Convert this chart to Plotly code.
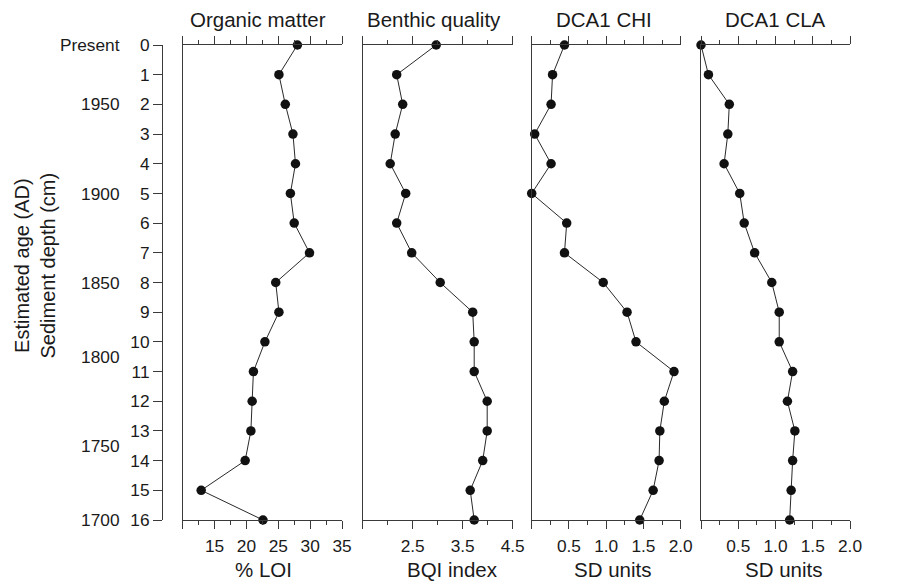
import plotly.graph_objects as go

# ---------------- data ----------------
depth = [0, 1, 2, 3, 4, 5, 6, 7, 8, 9, 10, 11, 12, 13, 14, 15, 16]
organic_loi = [28.0, 25.1, 26.1, 27.3, 27.7, 26.9, 27.5, 29.9, 24.6, 25.1,
               22.9, 21.1, 20.9, 20.7, 19.8, 12.9, 22.6]
bqi_index = [2.97, 2.18, 2.30, 2.15, 2.05, 2.36, 2.18, 2.48, 3.05, 3.70,
             3.73, 3.73, 3.99, 3.99, 3.90, 3.65, 3.73]
dca1_chi = [0.44, 0.28, 0.26, 0.04, 0.26, 0.0, 0.47, 0.44, 0.96, 1.28,
            1.40, 1.91, 1.78, 1.72, 1.71, 1.63, 1.45]
dca1_cla = [0.0, 0.10, 0.38, 0.36, 0.31, 0.52, 0.58, 0.72, 0.95, 1.05,
            1.05, 1.23, 1.16, 1.26, 1.23, 1.21, 1.19]

panel_titles = ["Organic matter", "Benthic quality", "DCA1 CHI", "DCA1 CLA"]
axis_titles = ["% LOI", "BQI index", "SD units", "SD units"]

x_ranges = [[10, 35], [1.5, 4.5], [0, 2.0], [0, 2.0]]
x_tickvals = [[10, 15, 20, 25, 30, 35], [1.5, 2.5, 3.5, 4.5],
              [0, 0.5, 1.0, 1.5, 2.0], [0, 0.5, 1.0, 1.5, 2.0]]
x_ticktext = [["", "15", "20", "25", "30", "35"], ["", "2.5", "3.5", "4.5"],
              ["", "0.5", "1.0", "1.5", "2.0"], ["", "0.5", "1.0", "1.5", "2.0"]]
x_minor = [2.5, 0.5, 0.25, 0.25]

age_depths = [0, 2, 5, 8, 10.5, 13.5, 16]
age_labels = ["Present", "1950", "1900", "1850", "1800", "1750", "1700"]

series = [organic_loi, bqi_index, dca1_chi, dca1_cla]

# ---------------- layout geometry (window pixels) ----------------
WIN_W, WIN_H = 914, 584
OFF = 8  # default page body margin
W, H = WIN_W - OFF, WIN_H - OFF


def px_x(p):
    return (p - OFF) / W


def px_y(p):
    return 1 - (p - OFF) / H


panel_px = [(182.7, 342.0), (362.7, 512.7), (531.7, 680.7), (701.0, 850.0)]
top_px, bot_px = 45.0, 520.0
ydom = [px_y(bot_px), px_y(top_px)]
title_centers = [257.5, 434.0, 604.3, 775.5]
xtitle_centers = [263.0, 452.5, 612.0, 783.0]

FONT = "Liberation Sans, Arial, Helvetica, sans-serif"
TXT = "#1a1a1a"
AX = "#3a3a3a"
TICK_FS = 17.3
TITLE_FS = 20.5

fig = go.Figure()

for i, vals in enumerate(series):
    sfx = "" if i == 0 else str(i + 1)
    fig.add_trace(go.Scatter(
        x=vals, y=depth, mode="lines+markers",
        xaxis="x" + sfx, yaxis="y" + sfx,
        line=dict(color="#111111", width=0.9),
        marker=dict(color="#111111", size=9.5),
        cliponaxis=False, showlegend=False, hoverinfo="skip",
    ))

# invisible helpers for the free depth and age axes
fig.add_trace(go.Scatter(x=organic_loi, y=depth, xaxis="x", yaxis="y5",
                         mode="markers", marker=dict(opacity=0),
                         showlegend=False, hoverinfo="skip"))
fig.add_trace(go.Scatter(x=organic_loi, y=depth, xaxis="x", yaxis="y6",
                         mode="markers", marker=dict(opacity=0),
                         showlegend=False, hoverinfo="skip"))

layout = dict(
    width=W, height=H,
    margin=dict(l=0, r=0, t=0, b=0, autoexpand=False),
    paper_bgcolor="white", plot_bgcolor="white",
    font=dict(family=FONT, size=TICK_FS, color=TXT),
    showlegend=False,
)

for i in range(4):
    sfx = "" if i == 0 else str(i + 1)
    x0, x1 = panel_px[i]
    layout["xaxis" + sfx] = dict(
        domain=[px_x(x0), px_x(x1)], anchor="y" + sfx, automargin=False,
        range=x_ranges[i], showgrid=False, zeroline=False,
        showline=True, linecolor=AX, linewidth=1,
        mirror="ticks", ticks="outside", ticklen=8, tickwidth=1, tickcolor=AX,
        tickmode="array", tickvals=x_tickvals[i], ticktext=x_ticktext[i],
        tickfont=dict(size=TICK_FS, color=TXT, family=FONT),
        ticklabelstandoff=2,
        minor=dict(tickmode="linear", tick0=x_ranges[i][0], dtick=x_minor[i],
                   ticks="outside", ticklen=4, tickwidth=1, tickcolor=AX,
                   showgrid=False),
        fixedrange=True,
    )
    layout["yaxis" + sfx] = dict(
        domain=ydom, anchor="x" + sfx, range=[16, 0], automargin=False,
        showgrid=False, zeroline=False, showline=True, linecolor=AX, linewidth=1,
        ticks="", showticklabels=False, fixedrange=True,
    )

layout["yaxis5"] = dict(
    domain=ydom, anchor="free", position=px_x(162.0), overlaying="y",
    range=[16, 0], showgrid=False, zeroline=False, automargin=False,
    showline=True, linecolor=AX, linewidth=1,
    ticks="outside", ticklen=9, tickwidth=1, tickcolor=AX,
    tickmode="array", tickvals=depth, ticktext=[str(d) for d in depth],
    tickfont=dict(size=TICK_FS, color=TXT, family=FONT), side="left",
    fixedrange=True,
)
layout["yaxis6"] = dict(
    domain=ydom, anchor="free", position=px_x(119.5), overlaying="y",
    range=[16, 0], showgrid=False, zeroline=False, showline=False, automargin=False,
    ticks="", tickmode="array", tickvals=age_depths, ticktext=age_labels,
    tickfont=dict(size=TICK_FS, color=TXT, family=FONT), side="left",
    fixedrange=True,
)

annotations = []
for i in range(4):
    annotations.append(dict(
        text=panel_titles[i], xref="paper", yref="paper",
        x=px_x(title_centers[i]), y=px_y(19.5), xanchor="center", yanchor="middle",
        showarrow=False, font=dict(size=TITLE_FS, color=TXT, family=FONT),
    ))
    annotations.append(dict(
        text=axis_titles[i], xref="paper", yref="paper",
        x=px_x(xtitle_centers[i]), y=px_y(569.5), xanchor="center", yanchor="middle",
        showarrow=False, font=dict(size=TITLE_FS, color=TXT, family=FONT),
    ))
annotations.append(dict(
    text="Estimated age (AD)<br>Sediment depth (cm)", xref="paper", yref="paper",
    x=px_x(34.5), y=px_y(266.0), xanchor="center", yanchor="middle",
    textangle=-90, showarrow=False,
    font=dict(size=20, color=TXT, family=FONT),
))
layout["annotations"] = annotations

fig.update_layout(**layout)
fig.write_html("out.html")
